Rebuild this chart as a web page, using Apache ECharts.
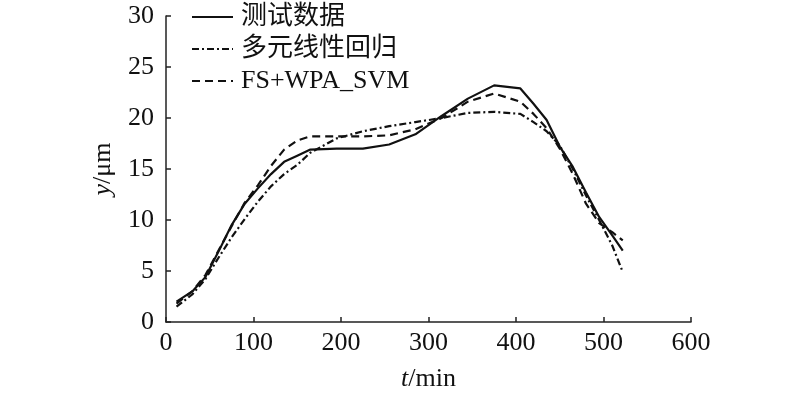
<!DOCTYPE html>
<html>
<head>
<meta charset="utf-8">
<script src="https://cdn.jsdelivr.net/npm/echarts@6/dist/echarts.min.js"></script>
<style>
html,body{margin:0;padding:0;background:#fff;}
#main{width:800px;height:393px;}
</style>
</head>
<body>
<div id="main"></div>
<script>
const tValues = [12, 30, 45, 60, 75, 90, 105, 120, 135, 150, 165, 195, 225, 255, 285, 315, 345, 375, 405, 420, 435, 450, 465, 480, 495, 510, 522];
const measured = [2.0, 3.0, 4.4, 6.9, 9.5, 11.6, 13.1, 14.5, 15.7, 16.3, 16.9, 17.0, 17.0, 17.4, 18.4, 20.2, 21.9, 23.2, 22.9, 21.4, 19.8, 17.2, 15.2, 12.7, 10.3, 8.5, 7.0];
const regression = [1.5, 2.7, 4.2, 6.3, 8.3, 10.1, 11.8, 13.3, 14.5, 15.4, 16.6, 18.0, 18.7, 19.2, 19.6, 20.0, 20.5, 20.6, 20.4, 19.6, 18.7, 17.3, 15.0, 12.4, 10.0, 7.5, 4.9];
const fsWpaSvm = [1.8, 3.0, 4.6, 7.0, 9.4, 11.7, 13.4, 15.3, 16.9, 17.8, 18.2, 18.2, 18.2, 18.3, 18.9, 20.0, 21.6, 22.4, 21.6, 20.4, 19.0, 17.0, 14.5, 11.6, 9.7, 8.8, 8.0];
const seriesNames = ['测试数据', '多元线性回归', 'FS+WPA_SVM'];
const xTicks = [0, 100, 200, 300, 400, 500, 600];
const yTicks = [0, 5, 10, 15, 20, 25, 30];

function pairs(ys){ return tValues.map((t,i)=>[t, ys[i]]); }

const FONT = '"Liberation Serif","Times New Roman","Noto Sans CJK SC",serif';
const chart = echarts.init(document.getElementById('main'), null, {renderer:'canvas'});
chart.setOption({
  animation:false,
  backgroundColor:'#ffffff',
  grid:{left:166, right:109, top:16, bottom:71, containLabel:false, outerBoundsMode:'none'},
  legend:{
    orient:'vertical', left:186, top:-1,
    itemWidth:41, itemHeight:14, itemGap:6,
    itemStyle:{color:'rgba(0,0,0,0)', borderWidth:0, opacity:0},
    textStyle:{fontFamily:FONT, fontSize:26, color:'#111', lineHeight:26, padding:[0,0,0,3]},
    data:seriesNames
  },
  xAxis:{
    type:'value', min:xTicks[0], max:xTicks[xTicks.length-1], interval:100,
    name:'{i|t}/min', nameLocation:'middle', nameGap:44,
    nameTextStyle:{fontFamily:FONT, fontSize:26, color:'#111', rich:{i:{fontFamily:FONT, fontSize:26, fontStyle:'italic', color:'#111'}}},
    axisLine:{show:true, lineStyle:{color:'#222', width:1.5}},
    axisTick:{show:true, inside:true, length:5, lineStyle:{color:'#222', width:1.5}},
    axisLabel:{fontFamily:FONT, fontSize:26, color:'#111', margin:8},
    splitLine:{show:false}
  },
  yAxis:{
    type:'value', min:yTicks[0], max:yTicks[yTicks.length-1], interval:5,
    name:'{i|y}/μm', nameLocation:'middle', nameGap:50, nameRotate:90,
    nameTextStyle:{fontFamily:FONT, fontSize:26, color:'#111', rich:{i:{fontFamily:FONT, fontSize:26, fontStyle:'italic', color:'#111'}}},
    axisLine:{show:true, lineStyle:{color:'#222', width:1.5}},
    axisTick:{show:true, inside:true, length:5, lineStyle:{color:'#222', width:1.5}},
    axisLabel:{fontFamily:FONT, fontSize:26, color:'#111', margin:12},
    splitLine:{show:false}
  },
  series:[
    {name:seriesNames[0], type:'line', data:pairs(measured), symbol:'none', smooth:false,
     lineStyle:{color:'#111', width:2.2, type:'solid'}, itemStyle:{color:'#111'}},
    {name:seriesNames[1], type:'line', data:pairs(regression), symbol:'none', smooth:false,
     lineStyle:{color:'#111', width:2.2, type:[7,3,2,3]}, itemStyle:{color:'#111'}},
    {name:seriesNames[2], type:'line', data:pairs(fsWpaSvm), symbol:'none', smooth:false,
     lineStyle:{color:'#111', width:2.2, type:[8,5]}, itemStyle:{color:'#111'}}
  ]
});
</script>
</body>
</html>
